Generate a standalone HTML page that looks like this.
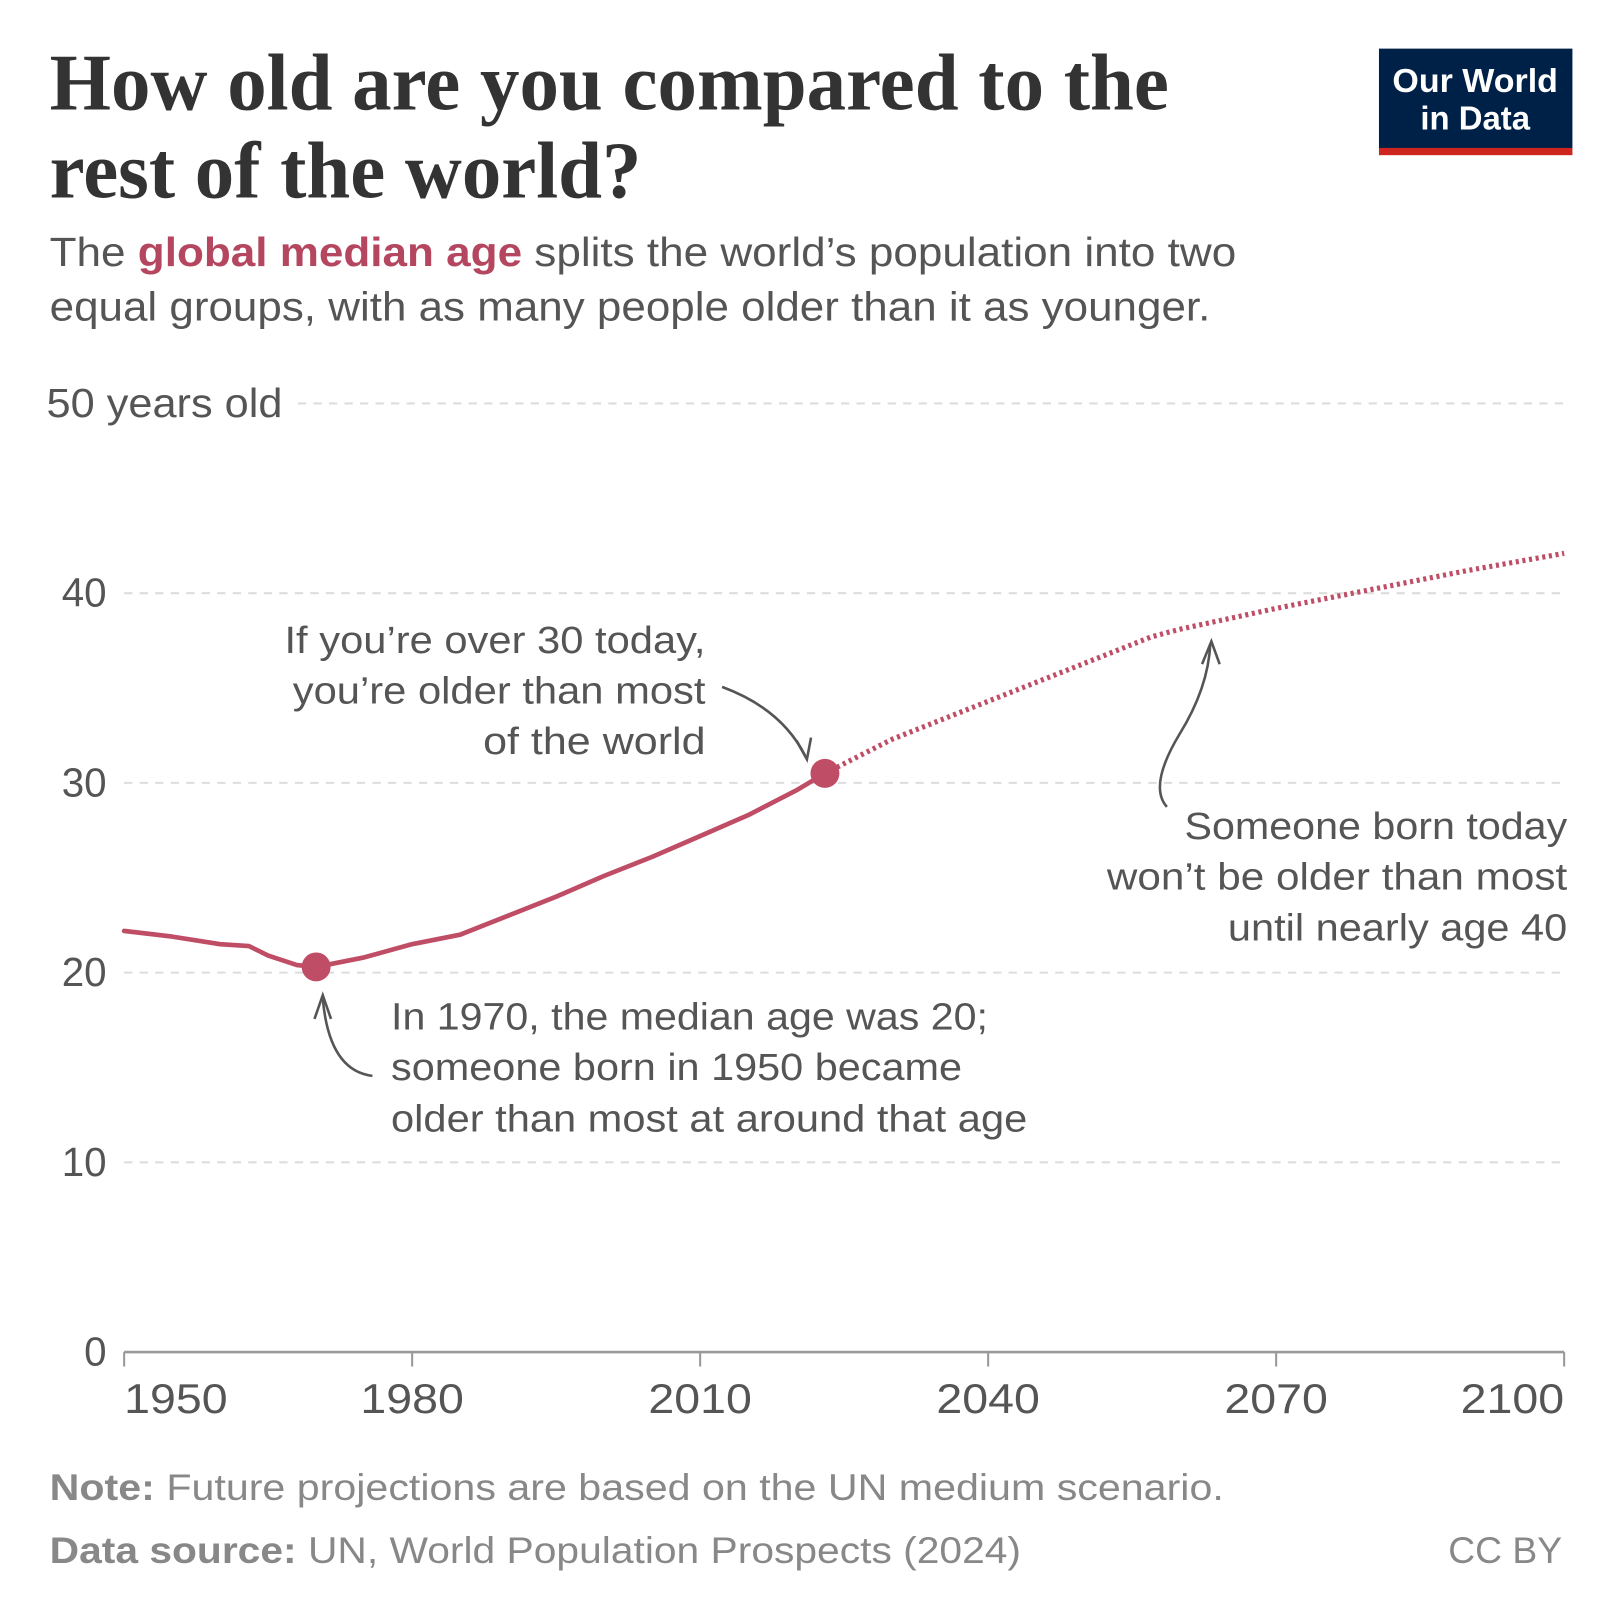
<!DOCTYPE html>
<html><head><meta charset="utf-8"><style>
html,body{margin:0;padding:0;background:#fff;}
svg{display:block;}
text{font-family:"Liberation Sans",sans-serif;}
text.serif{font-family:"Liberation Serif",serif;}
</style></head><body>
<svg id="chart" width="1620" height="1620" viewBox="0 0 1566 1566" xmlns="http://www.w3.org/2000/svg">
<rect width="1566" height="1566" fill="#fff"/>
<text class="serif" x="48" y="106" font-weight="bold" font-size="78" fill="#333" textLength="1082" lengthAdjust="spacingAndGlyphs">How old are you compared to the</text>
<text class="serif" x="48" y="191" font-weight="bold" font-size="78" fill="#333" textLength="572" lengthAdjust="spacingAndGlyphs">rest of the world?</text>
<g>
<rect x="1333" y="47" width="187" height="97" fill="#002147"/>
<rect x="1333" y="143" width="187" height="7" fill="#ce261e"/>
<text x="1426" y="89" text-anchor="middle" font-size="32" font-weight="bold" fill="#fff" textLength="160" lengthAdjust="spacingAndGlyphs">Our World</text>
<text x="1426" y="125" text-anchor="middle" font-size="32" font-weight="bold" fill="#fff" textLength="106" lengthAdjust="spacingAndGlyphs">in Data</text>
</g>
<text x="48" y="257" font-size="39" fill="#555" textLength="1147" lengthAdjust="spacingAndGlyphs">The <tspan fill="#b5465f" font-weight="bold">global median age</tspan> splits the world’s population into two</text>
<text x="48" y="310" font-size="39" fill="#555" textLength="1122" lengthAdjust="spacingAndGlyphs">equal groups, with as many people older than it as younger.</text>
<g id="grid"></g>
<g id="yticks"></g>
<g id="xaxis"></g>
<g id="series"></g>
<g font-size="37" fill="#555">
<text x="275" y="631" textLength="407" lengthAdjust="spacingAndGlyphs">If you’re over 30 today,</text>
<text x="283" y="680" textLength="399" lengthAdjust="spacingAndGlyphs">you’re older than most</text>
<text x="467" y="729" textLength="215" lengthAdjust="spacingAndGlyphs">of the world</text>
</g>
<path d="M698,664 Q755,685 778,730" fill="none" stroke="#555" stroke-width="2.5"/>
<path d="M770,716 L780,734 L784,713" fill="none" stroke="#555" stroke-width="2.5"/>
<g font-size="37" fill="#555">
<text x="1145" y="811" textLength="370" lengthAdjust="spacingAndGlyphs">Someone born today</text>
<text x="1070" y="860" textLength="445" lengthAdjust="spacingAndGlyphs">won’t be older than most</text>
<text x="1187" y="909" textLength="328" lengthAdjust="spacingAndGlyphs">until nearly age 40</text>
</g>
<path d="M1128,780 Q1110,760 1140,710 Q1168,665 1170,622" fill="none" stroke="#555" stroke-width="2.5"/>
<path d="M1162,642 L1171,620 L1179,642" fill="none" stroke="#555" stroke-width="2.5"/>
<g font-size="37" fill="#555">
<text x="378" y="995" textLength="577" lengthAdjust="spacingAndGlyphs">In 1970, the median age was 20;</text>
<text x="378" y="1044" textLength="552" lengthAdjust="spacingAndGlyphs">someone born in 1950 became</text>
<text x="378" y="1094" textLength="615" lengthAdjust="spacingAndGlyphs">older than most at around that age</text>
</g>
<path d="M360,1040 Q318,1035 312,965" fill="none" stroke="#555" stroke-width="2.5"/>
<path d="M304,985 L312,962 L320,985" fill="none" stroke="#555" stroke-width="2.5"/>
<text x="48" y="1450" font-size="36" fill="#888" textLength="1135" lengthAdjust="spacingAndGlyphs"><tspan font-weight="bold">Note:</tspan> Future projections are based on the UN medium scenario.</text>
<text x="48" y="1511" font-size="36" fill="#888" textLength="939" lengthAdjust="spacingAndGlyphs"><tspan font-weight="bold">Data source:</tspan> UN, World Population Prospects (2024)</text>
<text x="1510" y="1511" font-size="36" fill="#888" text-anchor="end">CC BY</text>
</svg>
<script>
const histYears = [1950,1955,1960,1963,1965,1968,1970,1975,1980,1985,1990,1995,2000,2005,2010,2015,2020,2023];
const histValues = [22.2,21.9,21.5,21.4,20.9,20.4,20.3,20.8,21.5,22.0,23.0,24.0,25.1,26.1,27.2,28.3,29.6,30.5];
const projYears = [2023,2030,2040,2050,2057,2060,2070,2080,2090,2100];
const projValues = [30.5,32.3,34.3,36.3,37.7,38.1,39.2,40.2,41.2,42.1];
const yTicks = [0,10,20,30,40,50];
const xTicks = [1950,1980,2010,2040,2070,2100];
const dotYears = [1970,2023];
const dotValues = [20.3,30.5];

const NS='http://www.w3.org/2000/svg';
const X0=120,X1=1512,Y0=1307,Y1=390;
function xs(y){return X0+(y-1950)/(2100-1950)*(X1-X0);}
function ys(v){return Y0-(v/50)*(Y0-Y1);}
function mk(tag,attrs,parent){const e=document.createElementNS(NS,tag);for(const k in attrs)e.setAttribute(k,attrs[k]);parent.appendChild(e);return e;}
const grid=document.getElementById('grid'),yt=document.getElementById('yticks'),xa=document.getElementById('xaxis'),se=document.getElementById('series');
yTicks.forEach(v=>{
  if(v>0){
    const l=mk('line',{x1:v===50?288:X0,x2:X1,y1:ys(v),y2:ys(v),stroke:'#ddd','stroke-width':2,'stroke-dasharray':'8,7'},grid);
    
    
  }
  const attrs={x:v===50?45:103,y:ys(v)+13,'font-size':39,fill:'#555','text-anchor':v===50?'start':'end'};
  if(v===50){attrs.textLength=228;attrs.lengthAdjust='spacingAndGlyphs';}
  const t=mk('text',attrs,yt);
  t.textContent=v===50?'50 years old':String(v);
  
  
});
const ax=mk('line',{x1:X0,x2:X1,y1:Y0,y2:Y0,stroke:'#999','stroke-width':2.5},xa);


xTicks.forEach((yr,i)=>{
  const tk=mk('line',{x1:xs(yr),x2:xs(yr),y1:Y0,y2:Y0+14,stroke:'#999','stroke-width':2},xa);
  
  
  const anchor=i===0?'start':(i===xTicks.length-1?'end':'middle');
  const t=mk('text',{x:xs(yr),y:1366,'font-size':40,fill:'#555','text-anchor':anchor,textLength:100,lengthAdjust:'spacingAndGlyphs'},xa);
  t.textContent=String(yr);
  
  
});
function pathD(ys_,vs){return ys_.map((y,i)=>(i?'L':'M')+xs(y).toFixed(1)+','+ys(vs[i]).toFixed(1)).join(' ');}
const h=mk('path',{d:pathD(histYears,histValues),fill:'none',stroke:'#c04d66','stroke-width':4.5,'stroke-linejoin':'round','stroke-linecap':'round'},se);


const p=mk('path',{d:pathD(projYears,projValues),fill:'none',stroke:'#c04d66','stroke-width':5,'stroke-dasharray':'3,3.5'},se);


dotYears.forEach((yr,i)=>{
  const c=mk('circle',{cx:xs(yr),cy:ys(dotValues[i]),r:14,fill:'#c04d66'},se);
  
  
});
</script>
</body></html>
